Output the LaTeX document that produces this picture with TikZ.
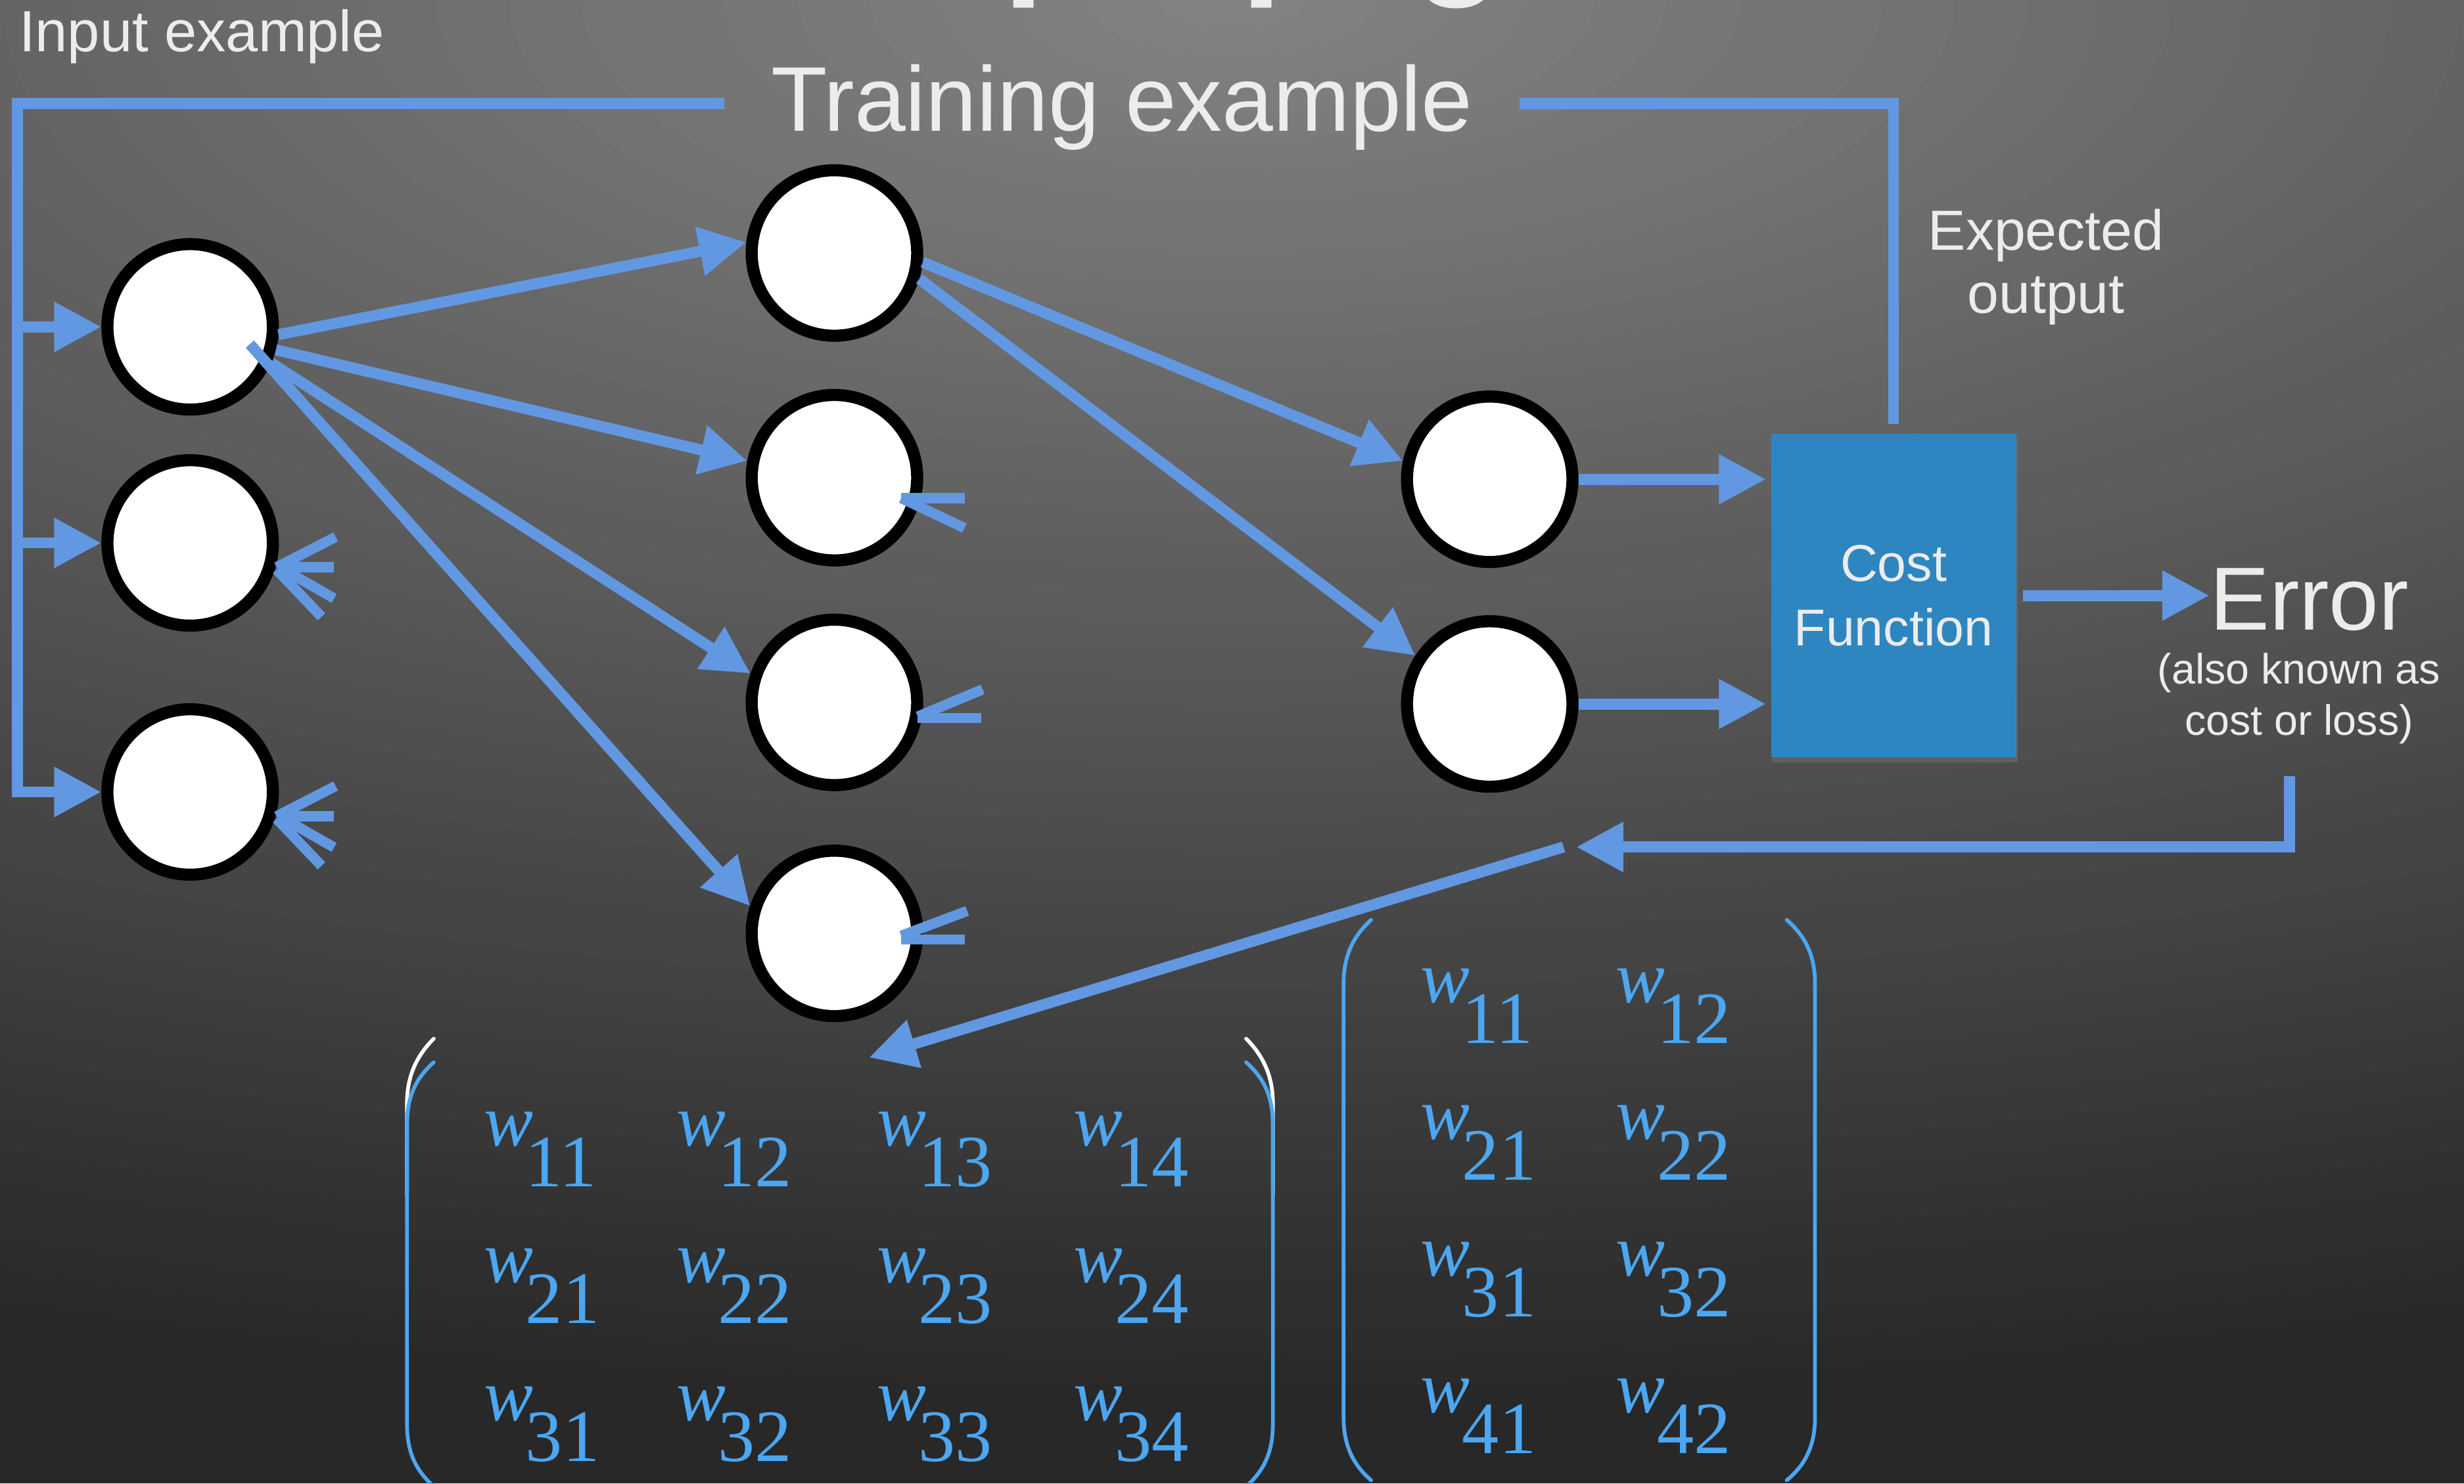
\documentclass[tikz,border=0pt]{standalone}
\usepackage{fontspec}
\setmainfont{Liberation Sans}
\newfontfamily\mtxfont{Liberation Serif}
\usetikzlibrary{arrows.meta,shadows}

\definecolor{wireblue}{RGB}{98,152,226}
\definecolor{costblue}{RGB}{46,134,193}
\definecolor{mtxblue}{RGB}{76,166,240}
\definecolor{labelwhite}{RGB}{236,236,236}
\definecolor{bginner}{RGB}{132,132,132}
\definecolor{bgouter}{RGB}{40,40,40}

\tikzset{
  wire/.style={draw=wireblue, line width=7pt},
  arr/.style={wire, -{Triangle[length=30pt,width=30pt]}},
  stub/.style={draw=wireblue, line width=6.5pt},
  neuron/.style={circle, draw=black, fill=white, line width=7.7pt,
    minimum size=105.3pt, inner sep=0pt,
    drop shadow={opacity=0.35, shadow xshift=0pt, shadow yshift=-4pt}},
  lbl/.style={text=labelwhite, inner sep=0pt},
  bracket/.style={draw=mtxblue, line width=2.4pt, line cap=round},
  bracketlight/.style={draw=white, line width=2.4pt, line cap=round},
  entry/.style={text=mtxblue, inner sep=0pt, anchor=base west,
    font=\mtxfont\fontsize{47}{50}\selectfont},
}
\newcommand{\wsub}[1]{{\itshape w}\kern-5pt\raisebox{-26pt}{#1}}

\begin{document}
\begin{tikzpicture}[x=1pt,y=-1pt]
\useasboundingbox (0,0) rectangle (1568,944);
\clip (0,0) rectangle (1568,944);

% slide background: elliptical glow from the top centre, built from rings
\fill[bgouter] (0,0) rectangle (1568,944);
\foreach \i in {50,49,...,1}{
  \pgfmathtruncatemacro\p{2*(50-\i)}
  \pgfmathsetmacro\rx{46*\i}
  \pgfmathsetmacro\ry{18*\i}
  \fill[bginner!\p!bgouter] (784,0) ellipse [x radius=\rx, y radius=\ry];
}

% headings and labels
\node[lbl, anchor=base, font=\bfseries\fontsize{94}{100}\selectfont] (title) at (797.7,-14.5) {Backpropagation};
\node[lbl, anchor=base west, font=\fontsize{37}{40}\selectfont] (inex) at (12,33) {Input example};
\node[lbl, anchor=base, font=\fontsize{58.5}{62}\selectfont] (train) at (714,83.6) {Training example};
\node[lbl, anchor=base, align=center, font=\fontsize{36}{40.5}\selectfont] (expct) at (1302,199.5) {Expected\\output};

% network
\node[neuron] (in1) at (121,208) {};
\node[neuron] (in2) at (121,345.5) {};
\node[neuron] (in3) at (121,504) {};
\node[neuron] (h1) at (531,161) {};
\node[neuron] (h2) at (531,304) {};
\node[neuron] (h3) at (531,447) {};
\node[neuron] (h4) at (531,594) {};
\node[neuron] (o1) at (948,305) {};
\node[neuron] (o2) at (948,448) {};

% cost function and error
\node[fill=costblue, minimum width=156pt, minimum height=206pt, inner sep=0pt,
  drop shadow={opacity=0.35, shadow xshift=1pt, shadow yshift=-3pt}] (cost) at (1205,379) {};
\node[lbl, align=center, font=\fontsize{33}{41}\selectfont] (costlbl) at (cost.center) {Cost\\Function};
\node[lbl, anchor=base west, font=\fontsize{57}{60}\selectfont] (err) at (1406,400.7) {Error};
\node[lbl, anchor=base, align=center, font=\fontsize{27}{32.6}\selectfont] (aka) at (1463,467.6) {(also known as\\cost or loss)};

% training example feed lines
\coordinate (trainL) at (461,66);
\coordinate (trainR) at (967,66);
\coordinate (tl) at (11,66);
\coordinate (tr) at (1205,66);
\draw[arr] (trainL) -- (tl) -- (tl |- in3) -- (in3.west);
\draw[arr] (tl |- in1) -- (in1.west);
\draw[arr] (tl |- in2) -- (in2.west);
\draw[wire, shorten >=6pt] (trainR) -- (tr) -- (tr |- cost.north);

% forward pass
\draw[arr] (in1.-5) -- (h1.173);
\draw[arr] (in1.-15) -- (h2.169);
\draw[arr] (in1.-24) -- (h3.161);
\draw[arr] ([shift={(38,11)}]in1.center) -- (h4.162);
\draw[arr] (h1.-6) -- (o1.168);
\draw[arr] (h1.-17) -- (o2.147);
\draw[arr, shorten >=3pt] (o1.east) -- (o1.east -| cost.west);
\draw[arr, shorten >=3pt] (o2.east) -- (o2.east -| cost.west);
\draw[arr, shorten <=4pt] (cost.east) -- (cost.east -| err.west);

% error fed back
\coordinate (fbtop) at (1457,494);
\coordinate (fbcorner) at (1457,539);
\coordinate (fbend) at (1003,539);
\draw[arr] (fbtop) -- (fbcorner) -- (fbend);
\coordinate (bpstart) at (995,539);
\coordinate (bpend) at (553,673);
\draw[arr] (bpstart) -- (bpend);

% backward strokes leaving the nodes
\foreach \n in {in2,in3}{
  \draw[stub] ([shift={(55,15.5)}]\n.center) -- ([shift={(92.6,-3.8)}]\n.center);
  \draw[stub] ([shift={(57,15.5)}]\n.center) -- ([shift={(91.6,15.5)}]\n.center);
  \draw[stub] ([shift={(57,15.5)}]\n.center) -- ([shift={(91.6,35.3)}]\n.center);
  \draw[stub] ([shift={(55,17)}]\n.center) -- ([shift={(83.6,47)}]\n.center);
}
\draw[stub] ([shift={(42.5,13)}]h2.center) -- ([shift={(83,13)}]h2.center);
\draw[stub] ([shift={(42.5,13)}]h2.center) -- ([shift={(82.7,32)}]h2.center);
\draw[stub] ([shift={(53,9)}]h3.center) -- ([shift={(94.3,-8.3)}]h3.center);
\draw[stub] ([shift={(53,10)}]h3.center) -- ([shift={(93.6,10)}]h3.center);
\draw[stub] ([shift={(42.5,1.5)}]h4.center) -- ([shift={(84.5,-14.3)}]h4.center);
\draw[stub] ([shift={(42.5,3.9)}]h4.center) -- ([shift={(83,3.9)}]h4.center);

% weight matrix between input and hidden layer
\draw[bracketlight] (276,661) .. controls (265,672) and (259,685) .. (259,702) -- (259,760);
\draw[bracketlight] (793,661) .. controls (804,672) and (810,685) .. (810,702) -- (810,760);
\draw[bracket] (276,676) .. controls (265,686) and (259,697) .. (259,716) -- (259,906) .. controls (259,925) and (265,936) .. (276,946);
\draw[bracket] (793,676) .. controls (804,686) and (810,697) .. (810,716) -- (810,906) .. controls (810,925) and (804,936) .. (793,946);
\foreach \r/\y in {1/729,2/816,3/904}{
  \foreach \c/\x in {1/308,2/430.5,3/558,4/683}{
    \node[entry] (wa-\r-\c) at (\x,\y) {\wsub{\r\c}};
  }
}

% weight matrix between hidden and output layer
\draw[bracket] (872.5,585.4) .. controls (862,595) and (855,607) .. (855,626) -- (855,902) .. controls (855,921) and (862,933) .. (872.5,942);
\draw[bracket] (1137,585.4) .. controls (1148,595) and (1155,607) .. (1155,626) -- (1155,902) .. controls (1155,921) and (1148,933) .. (1137,942);
\foreach \r/\y in {1/638,2/725,3/812,4/899}{
  \foreach \c/\x in {1/904,2/1028}{
    \node[entry] (wb-\r-\c) at (\x,\y) {\wsub{\r\c}};
  }
}
\end{tikzpicture}
\end{document}
